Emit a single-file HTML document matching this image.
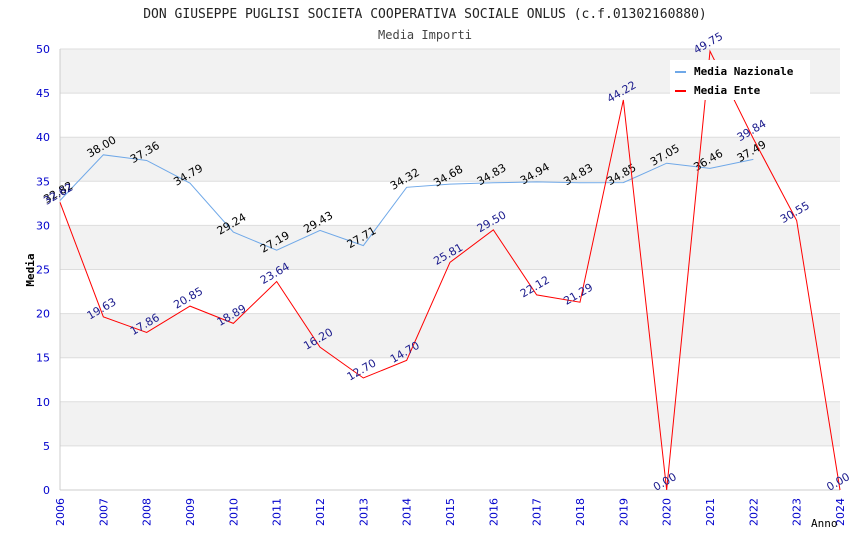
<!DOCTYPE html>
<html><head><meta charset="utf-8"><style>
body{margin:0;background:#fff}
</style></head><body>
<svg id="c" width="850" height="550" xmlns="http://www.w3.org/2000/svg" font-family="DejaVu Sans, Liberation Sans, sans-serif"></svg>
<script>
const years=[2006,2007,2008,2009,2010,2011,2012,2013,2014,2015,2016,2017,2018,2019,2020,2021,2022,2023,2024];
const nazionale=[32.82,38.00,37.36,34.79,29.24,27.19,29.43,27.71,34.32,34.68,34.83,34.94,34.83,34.85,37.05,36.46,37.49];
const ente=[32.62,19.63,17.86,20.85,18.89,23.64,16.20,12.70,14.70,25.81,29.50,22.12,21.29,44.22,0.00,49.75,39.84,30.55,0.00];
const yTicks=[0,5,10,15,20,25,30,35,40,45,50];
const NS="http://www.w3.org/2000/svg";
const svg=document.getElementById('c');
const L=60,R=840,T=49,B=490;
const MONO='DejaVu Sans Mono, Liberation Mono, monospace';
const x=i=>L+(R-L)*i/(years.length-1);
const y=v=>B-(B-T)*v/50;
function el(t,a,p){const e=document.createElementNS(NS,t);for(const k in a)e.setAttribute(k,a[k]);(p||svg).appendChild(e);return e;}
function tx(s,a){const e=el('text',a);e.textContent=s;return e;}
for(let v=5;v<50;v+=10){const r=el('rect',{x:L,y:y(v+5),width:R-L,height:y(v)-y(v+5),fill:'#f2f2f2'});

}
yTicks.forEach(v=>{const g=el('line',{x1:L,x2:R,y1:y(v),y2:y(v),stroke:'#ddd','stroke-width':1});


const t=tx(v,{x:50,y:y(v)+4,'text-anchor':'end','font-size':11,fill:'#0000cc'});

});
el('line',{x1:L,x2:L,y1:T,y2:B,stroke:'#ccc'});
el('line',{x1:L,x2:R,y1:B,y2:B,stroke:'#ccc'});
years.forEach((yr,i)=>{const t=tx(yr,{x:0,y:0,'font-size':11,fill:'#0000cc','text-anchor':'end',transform:`translate(${x(i)+4},${B+8}) rotate(-90)`});

});
function series(vals,color,lblColor,name){
 const pts=vals.map((v,i)=>x(i)+','+y(v)).join(' ');
 const p=el('polyline',{points:pts,fill:'none',stroke:color,'stroke-width':1});
 
 
 vals.forEach((v,i)=>{const t=tx(v.toFixed(2),{x:0,y:0,'font-size':11,fill:lblColor,'text-anchor':'middle',transform:`translate(${x(i)},${y(v)-5}) rotate(-30)`});
 
 });
}
series(nazionale,'#6fa8e8','#000','media-nazionale');
series(ente,'#ff0000','#1a1a8c','media-ente');
let t=tx('DON GIUSEPPE PUGLISI SOCIETA COOPERATIVA SOCIALE ONLUS (c.f.01302160880)',{x:425,y:18,'text-anchor':'middle','font-size':13,fill:'#222','font-family':MONO});

t=tx('Media Importi',{x:425,y:39,'text-anchor':'middle','font-size':12,fill:'#444','font-family':MONO});

t=tx('Media',{x:0,y:0,'font-size':11,fill:'#000','font-weight':'bold','text-anchor':'middle','font-family':MONO,transform:'translate(34,270) rotate(-90)'});

t=tx('Anno',{x:811,y:527,'font-size':11,fill:'#000','font-family':MONO});

const lg=el('g',{});

el('rect',{x:670,y:60,width:140,height:40,fill:'#fff'},lg);
el('rect',{x:675,y:71,width:11,height:2,fill:'#6fa8e8'},lg);
el('rect',{x:675,y:90,width:11,height:2,fill:'#ff0000'},lg);
t=tx('Media Nazionale',{x:694,y:75,'font-size':11,'font-weight':'bold','font-family':MONO,fill:'#000'});lg.appendChild(t);

t=tx('Media Ente',{x:694,y:94,'font-size':11,'font-weight':'bold','font-family':MONO,fill:'#000'});lg.appendChild(t);

</script>
</body></html>
